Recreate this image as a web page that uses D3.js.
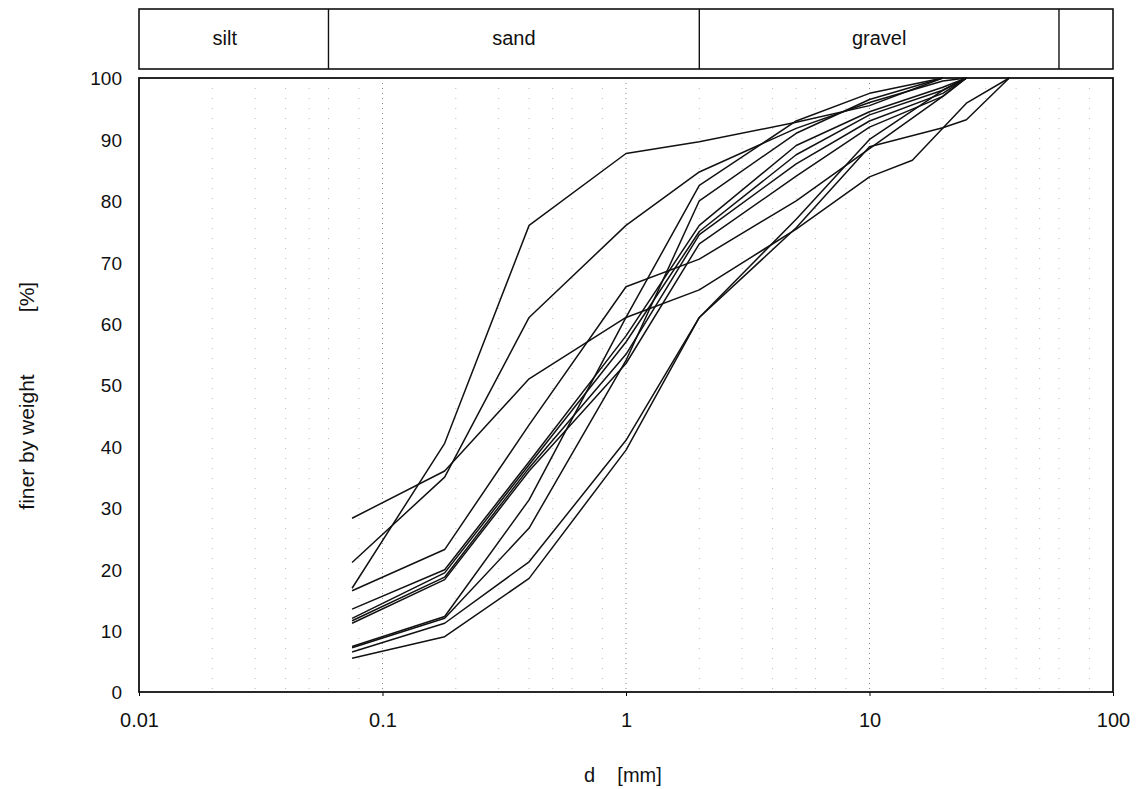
<!DOCTYPE html>
<html>
<head>
<meta charset="utf-8">
<script src="https://cdn.jsdelivr.net/npm/d3@7/dist/d3.min.js"></script>
<style>
  html, body { margin: 0; padding: 0; background: #fff; }
  svg { display: block; }
  text { font-family: "Liberation Sans", Arial, sans-serif; fill: #111; }
</style>
</head>
<body>
<svg id="chart" width="1139" height="789"></svg>
<script>
// ---- data ----
const sieves = [0.075, 0.18, 0.4, 1, 2, 5, 10, 15, 20, 25, 37.5];
const s1  = [16.9, 40.5, 76.0, 87.7, 89.6, 92.8, 95.5, null, 100, null, null];
const s2  = [28.3, 36.0, 51.0, 61.0, 65.5, 75.4, 83.9, 86.6, null, 95.9, 100];
const s3  = [21.1, 35.0, 61.0, 76.0, 84.7, 91.8, 96.0, null, 99.5, 100, null];
const s4  = [16.5, 23.2, 43.5, 66.0, 70.5, 80.0, 88.5, null, 97.0, 100, null];
const s5  = [13.5, 19.9, 37.5, 58.0, 76.0, 89.0, 94.5, null, 98.5, 100, null];
const s6  = [12.0, 19.4, 37.0, 57.0, 75.0, 87.5, 94.0, null, 98.0, 100, null];
const s7  = [11.6, 18.7, 36.5, 55.0, 74.5, 86.0, 93.0, null, 97.5, 100, null];
const s8  = [11.2, 18.3, 36.0, 53.5, 73.0, 84.0, 92.0, null, 97.0, 100, null];
const s9  = [7.4, 12.3, 31.3, 61.0, 82.5, 93.0, 97.5, null, 100, null, null];
const s10 = [7.2, 12.0, 26.7, 54.0, 80.0, 91.0, 96.5, null, 100, null, null];
const s11 = [6.5, 11.2, 21.2, 41.0, 61.0, 75.6, 88.8, null, 91.9, 93.2, 100];
const s12 = [5.5, 9.0, 18.5, 39.4, 61.0, 77.0, 90.0, null, 98.0, 100, null];
const allSeries = [s1, s2, s3, s4, s5, s6, s7, s8, s9, s10, s11, s12];

const xTicks = [0.01, 0.1, 1, 10, 100];
const xTickLabels = ["0.01", "0.1", "1", "10", "100"];
const yTicks = [0, 10, 20, 30, 40, 50, 60, 70, 80, 90, 100];

const bands = ["silt", "sand", "gravel", ""];
const bandLimits = [0.01, 0.06, 2, 60, 100];

// ---- layout ----
const svg = d3.select("#chart");
const L = 139, R = 1113, T = 78, B = 692;
const x = d3.scaleLog().domain([0.01, 100]).range([L, R]);
const y = d3.scaleLinear().domain([0, 100]).range([B, T]);
const FONT = '"Liberation Sans", Arial, sans-serif';

// faint dotted grid (scan-like)
const minor = [];
[0.01, 0.1, 1, 10].forEach(dec => [2, 3, 4, 5, 6, 8].forEach(m => minor.push(dec * m)));
svg.append("g").selectAll("line").data(minor).join("line")
  .attr("x1", d => x(d)).attr("x2", d => x(d))
  .attr("y1", T).attr("y2", B)
  .attr("stroke", "#bbb").attr("stroke-width", 1)
  .attr("stroke-dasharray", "1,9");
svg.append("g").selectAll("line").data([0.1, 1, 10]).join("line")
  .attr("x1", d => x(d)).attr("x2", d => x(d))
  .attr("y1", T).attr("y2", B)
  .attr("stroke", "#888").attr("stroke-width", 1)
  .attr("stroke-dasharray", "1,4");

// top band of soil classes
const bandG = svg.append("g");
const bandTop = 9, bandBot = 69;
bandG.append("rect").attr("x", L).attr("y", bandTop)
  .attr("width", R - L).attr("height", bandBot - bandTop)
  .attr("fill", "none").attr("stroke", "#111").attr("stroke-width", 1.6);
bandG.selectAll("line.div").data(bandLimits.slice(1, -1)).join("line")
  .attr("class", "div")
  .attr("x1", d => x(d)).attr("x2", d => x(d))
  .attr("y1", bandTop).attr("y2", bandBot)
  .attr("stroke", "#111").attr("stroke-width", 1.4);
bandG.selectAll("text").data(bands).join("text")
  .attr("x", (d, i) => (x(bandLimits[i]) + x(bandLimits[i + 1])) / 2 - (i === 0 ? 9 : 0))
  .attr("y", 45)
  .attr("text-anchor", "middle")
  .attr("font-size", 20)
  .text(d => d);

// axes
const xAxis = d3.axisBottom(x).tickValues(xTicks)
  .tickFormat((d, i) => xTickLabels[i]).tickSize(4).tickPadding(17);
const gx = svg.append("g").attr("transform", `translate(0,${B})`).call(xAxis);
gx.select(".domain").remove();
gx.selectAll("text").attr("font-size", 20).style("font-family", FONT).attr("fill", "#111");

const yAxis = d3.axisLeft(y).tickValues(yTicks).tickSize(0).tickPadding(17);
const gy = svg.append("g").attr("transform", `translate(${L},0)`).call(yAxis);
gy.select(".domain").remove();
gy.selectAll("text").attr("font-size", 19).attr("dy", "0.36em").style("font-family", FONT).attr("fill", "#111");

// plot frame
svg.append("rect").attr("x", L).attr("y", T)
  .attr("width", R - L).attr("height", B - T)
  .attr("fill", "none").attr("stroke", "#111").attr("stroke-width", 1.8);

// curves
const line = d3.line()
  .x(d => x(d[0])).y(d => y(d[1]));
svg.append("g").selectAll("path").data(allSeries).join("path")
  .attr("d", s => line(sieves.map((d, i) => [d, s[i]]).filter(p => p[1] !== null)))
  .attr("fill", "none").attr("stroke", "#111").attr("stroke-width", 1.5)
  .attr("stroke-linejoin", "round");

// axis titles
svg.append("text").attr("x", 584).attr("y", 782)
  .attr("text-anchor", "start").attr("font-size", 20)
  .attr("xml:space", "preserve")
  .text("d    [mm]");
svg.append("text")
  .attr("transform", "translate(34,442) rotate(-90)")
  .attr("text-anchor", "middle").attr("font-size", 21)
  .text("finer by weight");
svg.append("text")
  .attr("transform", "translate(34,297) rotate(-90)")
  .attr("text-anchor", "middle").attr("font-size", 21)
  .text("[%]");
</script>
</body>
</html>
